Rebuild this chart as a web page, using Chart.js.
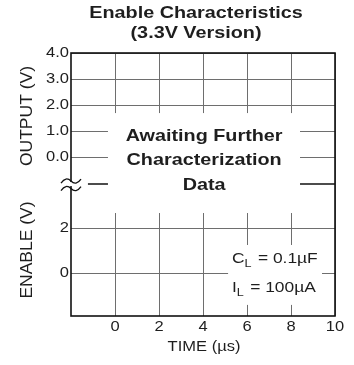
<!DOCTYPE html>
<html><head><meta charset="utf-8">
<script src="https://cdn.jsdelivr.net/npm/chart.js@4"></script>
<style>html,body{margin:0;padding:0;background:#fff;}canvas{display:block;}</style>
</head><body>
<canvas id="c" width="354" height="365"></canvas>
<script>
const titleLines = ["Enable Characteristics", "(3.3V Version)"];
const timeTicks = [0, 2, 4, 6, 8, 10];
const timeRange = [-2, 10];
const outputTicks = [0, 1, 2, 3, 4];
const outputLabels = ["0.0", "1.0", "2.0", "3.0", "4.0"];
const enableTicks = [0, 2];
const enableLabels = ["0", "2"];
const noteLines = ["Awaiting Further", "Characterization", "Data"];
const conditions = [["C", "L", " = 0.1µF"], ["I", "L", " = 100µA"]];
const xTitle = "TIME (µs)";
const yOutTitle = "OUTPUT (V)";
const yEnTitle = "ENABLE (V)";

const FONT = '"Liberation Sans", Arial, Helvetica, sans-serif';
const outRange = [-6.115, 4];
const enRange = [-1.95, 9.9];
const breakOut = -1.04;

function txt(ctx, s, x, y, size, bold, align, sx, sy, rot, color) {
  ctx.save();
  ctx.translate(x, y);
  if (rot) ctx.rotate(rot);
  ctx.scale(sx || 1, sy || 1);
  ctx.font = (bold ? 'bold ' : '') + size + 'px ' + FONT;
  ctx.textAlign = align || 'center';
  ctx.textBaseline = 'middle';
  ctx.fillStyle = color || '#1e1e1e';
  ctx.fillText(s, 0, 0);
  ctx.restore();
}
function crisp(v) { return Math.round(v) + 0.5; }

const drawPlugin = {
  id: 'sheet',
  afterDraw(chart) {
    const ctx = chart.ctx;
    const xs = chart.scales.x, yo = chart.scales.yOut, ye = chart.scales.yEn;
    const a = chart.chartArea;
    ctx.save();
    // grid
    ctx.strokeStyle = '#6e6e6e';
    ctx.lineWidth = 1;
    ctx.beginPath();
    timeTicks.forEach(t => { const x = crisp(xs.getPixelForValue(t)); ctx.moveTo(x, a.top); ctx.lineTo(x, a.bottom); });
    outputTicks.forEach(v => { const y = crisp(yo.getPixelForValue(v)); ctx.moveTo(a.left, y); ctx.lineTo(a.right, y); });
    enableTicks.forEach(v => { const y = crisp(ye.getPixelForValue(v)); ctx.moveTo(a.left, y); ctx.lineTo(a.right, y); });
    ctx.stroke();
    // break line
    const by = yo.getPixelForValue(breakOut);
    ctx.strokeStyle = '#111';
    ctx.lineWidth = 1.6;
    ctx.beginPath();
    ctx.moveTo(xs.getPixelForValue(-1.23), by); ctx.lineTo(a.right, by);
    ctx.stroke();
    // note mask
    ctx.fillStyle = '#fff';
    const mx0 = xs.getPixelForValue(-0.32), mx1 = xs.getPixelForValue(8.41);
    const my0 = yo.getPixelForValue(1.69), my1 = ye.getPixelForValue(2.69);
    ctx.fillRect(mx0, my0, mx1 - mx0, my1 - my0);
    // conditions mask
    const cx0 = xs.getPixelForValue(5.14), cx1 = xs.getPixelForValue(9.41);
    const cy0 = ye.getPixelForValue(1.25), cy1 = ye.getPixelForValue(-1.45);
    ctx.fillRect(cx0, cy0, cx1 - cx0, cy1 - cy0);
    // border
    ctx.strokeStyle = '#111';
    ctx.lineWidth = 1.6;
    ctx.strokeRect(a.left, a.top, a.right - a.left, a.bottom - a.top);
    // break symbol
    ctx.fillStyle = '#fff';
    ctx.fillRect(a.left - 2, by - 2, 4, 4);
    ctx.strokeStyle = '#111';
    ctx.lineWidth = 1.3;
    [by - 3, by + 4.5].forEach(y => {
      const c = a.left;
      ctx.beginPath();
      ctx.moveTo(c - 10, y + 2);
      ctx.quadraticCurveTo(c - 5, y - 5, c, y);
      ctx.quadraticCurveTo(c + 5, y + 5, c + 10, y - 2);
      ctx.stroke();
    });
    // titles
    txt(ctx, titleLines[0], 196, 13, 16.5, true, 'center', 1.2);
    txt(ctx, titleLines[1], 196, 33, 16.5, true, 'center', 1.2);
    // y tick labels
    outputTicks.forEach((v, i) => txt(ctx, outputLabels[i], a.left - 2, yo.getPixelForValue(v), 14, false, 'right', 1.18));
    enableTicks.forEach((v, i) => txt(ctx, enableLabels[i], a.left - 2, ye.getPixelForValue(v), 14, false, 'right', 1.18));
    // x tick labels
    timeTicks.forEach(t => txt(ctx, String(t), xs.getPixelForValue(t), a.bottom + 11, 14, false, 'center', 1.18));
    // axis titles
    txt(ctx, xTitle, 204, a.bottom + 31, 14, false, 'center', 1.18);
    txt(ctx, yOutTitle, 27, 116, 14, false, 'center', 1.25, 1.2, -Math.PI / 2);
    txt(ctx, yEnTitle, 27, 250, 14, false, 'center', 1.25, 1.2, -Math.PI / 2);
    // note
    const ncx = xs.getPixelForValue(4.05);
    txt(ctx, noteLines[0], ncx, 136, 16.5, true, 'center', 1.2);
    txt(ctx, noteLines[1], ncx, 160, 16.5, true, 'center', 1.2);
    txt(ctx, noteLines[2], ncx, 185, 16.5, true, 'center', 1.2);
    // conditions
    const sx = 1.2;
    conditions.forEach((c, i) => {
      let x = 232, y = 259 + i * 29;
      ctx.font = '14.5px ' + FONT;
      txt(ctx, c[0], x, y, 14.5, false, 'left', sx);
      x += ctx.measureText(c[0]).width * sx;
      ctx.font = '10.5px ' + FONT;
      txt(ctx, c[1], x, y + 5, 10.5, false, 'left', sx);
      x += ctx.measureText(c[1]).width * sx + 1.5;
      txt(ctx, c[2], x, y, 14.5, false, 'left', sx);
    });
    ctx.restore();
  }
};

new Chart(document.getElementById('c'), {
  type: 'scatter',
  data: { datasets: [{ data: [], yAxisID: 'yOut' }] },
  options: {
    responsive: false,
    animation: false,
    layout: { padding: { left: 71, right: 19, top: 53, bottom: 49 } },
    plugins: { legend: { display: false }, tooltip: { enabled: false }, title: { display: false } },
    scales: {
      x: { type: 'linear', display: false, min: timeRange[0], max: timeRange[1] },
      yOut: { type: 'linear', display: false, min: outRange[0], max: outRange[1] },
      yEn: { type: 'linear', display: false, min: enRange[0], max: enRange[1] }
    }
  },
  plugins: [drawPlugin]
});
</script>
</body></html>
